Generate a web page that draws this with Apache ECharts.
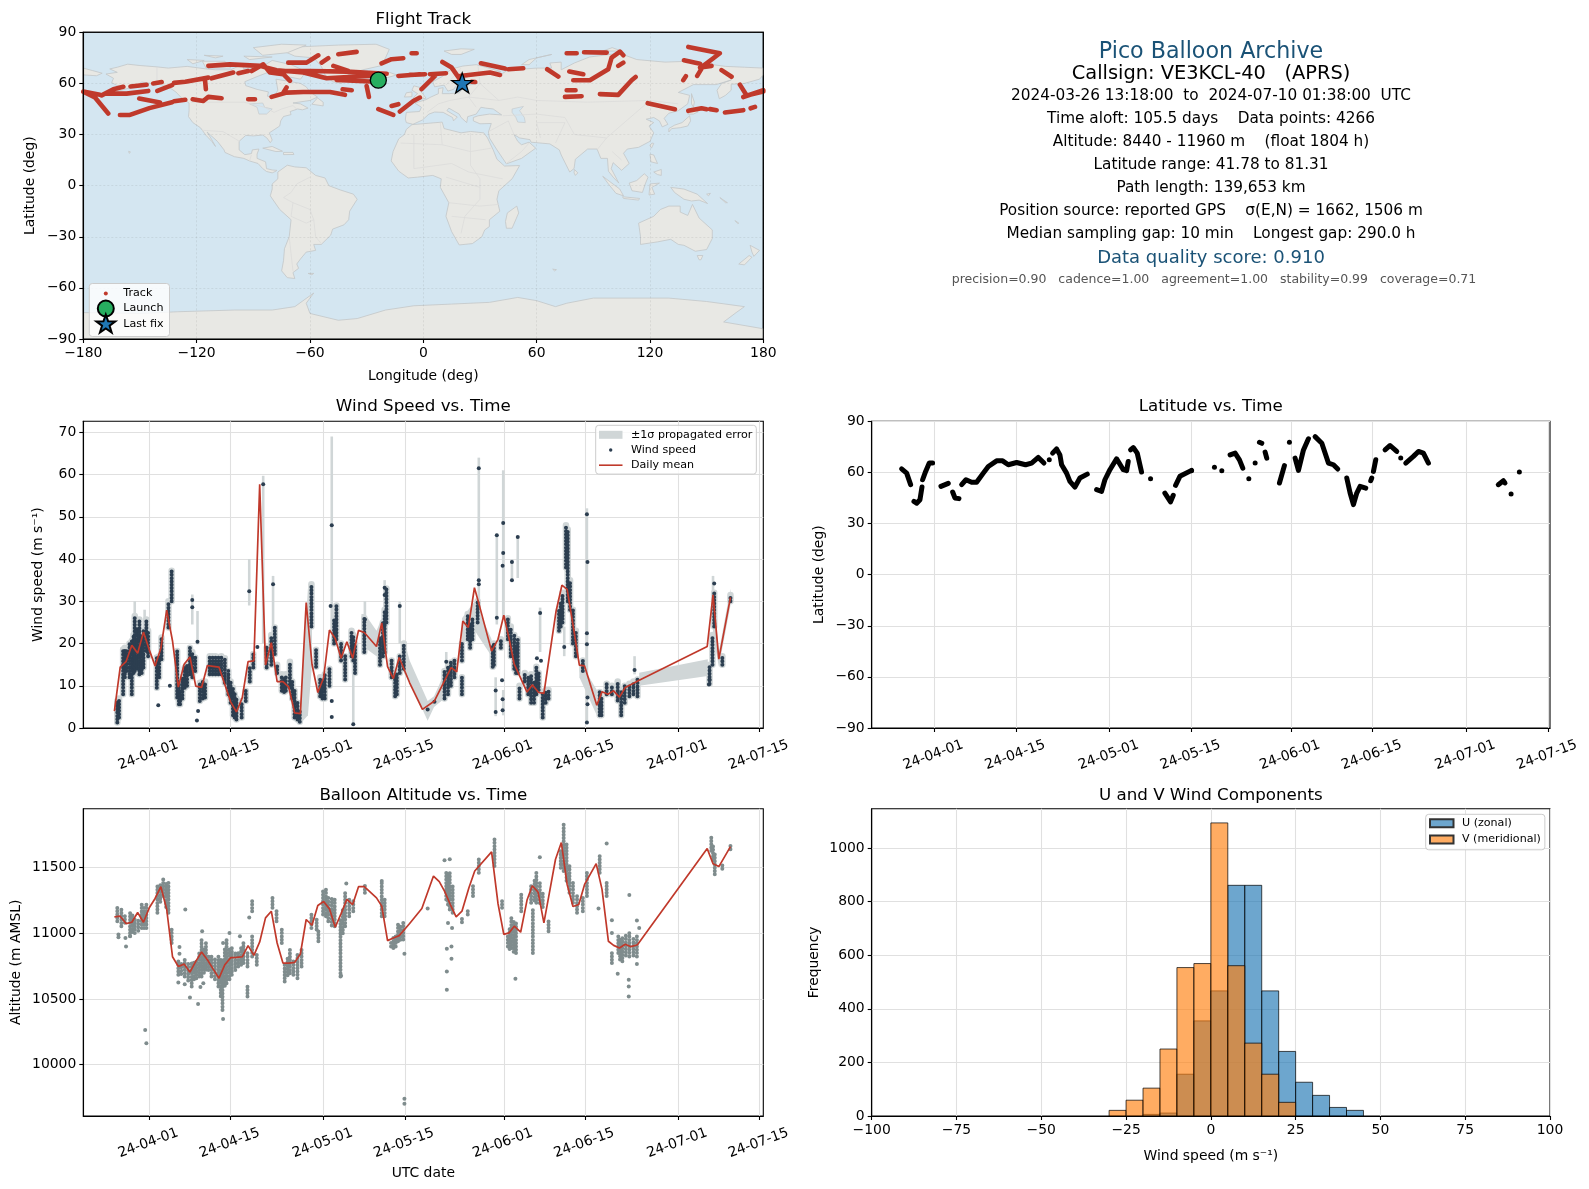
<!DOCTYPE html>
<html><head><meta charset="utf-8">
<style>html,body{margin:0;padding:0;background:#fff}#c{width:1589px;height:1189px}</style>
<script src="https://cdn.jsdelivr.net/npm/echarts@6/dist/echarts.min.js"></script>
</head><body><div id="c"></div>
<script>
const headerLines = [
 ["Pico Balloon Archive",51.8,22.2,"#1a5276",1211],
 ["Callsign: VE3KCL-40   (APRS)",74.3,19.4,"#000",1211],
 ["2024-03-26 13:18:00  to  2024-07-10 01:38:00  UTC",96,15.3,"#000",1211],
 ["Time aloft: 105.5 days    Data points: 4266",119,15.3,"#000",1211],
 ["Altitude: 8440 - 11960 m    (float 1804 h)",142,15.3,"#000",1211],
 ["Latitude range: 41.78 to 81.31",165,15.3,"#000",1211],
 ["Path length: 139,653 km",188,15.3,"#000",1211],
 ["Position source: reported GPS    σ(E,N) = 1662, 1506 m",211,15.3,"#000",1211],
 ["Median sampling gap: 10 min    Longest gap: 290.0 h",234,15.3,"#000",1211],
 ["Data quality score: 0.910",258,18,"#1a5276",1211],
 ["precision=0.90   cadence=1.00   agreement=1.00   stability=0.99   coverage=0.71",280,12.5,"#555555",1214]
];
const landPolygons = [
 [[-168,65.5],[-164,63],[-165,60.5],[-162,58.7],[-158,58],[-164,54.7],[-155,57.5],[-151,59.5],[-149,60.8],[-144,60],[-139,59.5],[-135,58],[-131,55],[-128,51.5],[-124,48.5],[-124,44],[-124.3,40.5],[-122,37],[-118,34],[-117,32.5],[-115,29.5],[-112,26],[-110,23],[-112,27],[-114.5,31.5],[-112.5,29.5],[-109,26],[-105.5,21],[-105,19.5],[-100,17],[-95,16],[-92,14.5],[-87.5,13],[-85,10],[-83,8.3],[-80,7.5],[-78,8.5],[-77.5,9],[-80,9.2],[-83,10],[-83.5,14],[-88,16],[-88,18.5],[-87,21.5],[-90.5,21],[-91,18.8],[-94.5,18.2],[-97.5,21],[-97.5,26],[-94,29.5],[-90,29.2],[-85,29.7],[-82.8,28],[-81,25.2],[-80,26.8],[-81.5,31],[-76,35],[-75.5,38],[-74,40.6],[-70,41.7],[-70.5,43.5],[-66.5,45],[-64,44.5],[-61,45.5],[-65,48],[-69,48.5],[-60,50],[-56,52],[-60,55],[-62,58],[-65,60],[-70,61],[-78,62.5],[-77,56],[-79.5,51.5],[-82.5,52.5],[-82,55],[-88,56.5],[-94,58.7],[-94.5,61],[-88,64],[-81,67],[-85,69.5],[-90,68.5],[-95,68.5],[-96,71],[-102,68],[-110,68],[-115,68.5],[-125,70],[-135,69],[-141,69.7],[-150,70.5],[-156.5,71.3],[-162,69.5],[-166,68.5],[-162,66.5]],
 [[-73,78.5],[-65,81.5],[-45,82.5],[-25,83],[-18,80],[-20,75],[-22,70.5],[-32,68],[-40,65],[-43,60],[-48,61],[-52,65],[-54,70],[-58,75],[-68,76]],
 [[-80,73.5],[-70,71],[-62,67],[-65,62.5],[-72,64],[-78,65],[-73,68],[-85,70]],
 [[-117,73],[-105,73],[-102,69],[-115,69]],[[-125,74],[-116,73.5],[-122,71.5]],
 [[-90,81],[-75,83],[-62,82.5],[-72,78],[-85,76.5]],[[-95,76],[-80,75.5],[-92,74]],[[-116,76.5],[-106,76],[-110,75]],
 [[-59,47.8],[-53,46.8],[-53,49],[-56,51.5]],[[-85,22],[-80,23],[-74.5,20.2],[-78,20]],[[-74,19.5],[-69,19.5],[-68.5,18.3],[-74,18.2]],[[-156,20.2],[-155,19.7],[-155.7,19]],
 [[-77,8],[-72,12],[-68,11],[-62,10.5],[-57,6],[-52,4.5],[-50,0],[-44,-2.5],[-37,-5],[-35,-8],[-39,-15],[-39.5,-20],[-42,-23],[-48,-25.5],[-49,-29],[-54,-34.5],[-58,-34.5],[-57,-38],[-62,-39],[-65,-43],[-67,-46],[-66,-48.5],[-69,-51],[-68,-54.5],[-72,-54],[-75,-50],[-74,-44],[-73.5,-37],[-71,-30],[-70,-20],[-76,-14],[-81,-6],[-80,-2],[-80,1],[-77,4]],
 [[-6,35.8],[10,37.3],[11,33.5],[20,31],[25,31.8],[32,31],[34,28],[37,21],[39,15.5],[43,11.5],[51,11.8],[47,4],[40,-3],[39,-8],[40.5,-15],[35,-20],[35,-24],[32.5,-26],[31,-30],[26,-34],[19,-34.8],[15,-27],[12,-18],[13.5,-10],[9,-1],[9.5,4],[5,6],[-3,5],[-8,4.5],[-13,8.5],[-17,14.5],[-16,20],[-13,27.5],[-10,30],[-9,33]],
 [[-9,37],[-9.5,39],[-9,43],[-2,43.5],[-1,46],[-4.5,48.5],[1.5,50.5],[4,52],[8,54],[8,57],[10.5,57.5],[10,54],[14,54],[19,54.5],[21,57],[24,59],[29,60],[23,60],[21,62],[25,65],[22,65.8],[17.5,62],[18.5,60],[16,56.5],[13,55.5],[11,59],[6,58],[5,61],[10,64],[15,68.5],[21,70.2],[28,71],[33,69.5],[41,67],[35,66.5],[40,64.5],[45,68],[54,68.5],[60,69],[68,69],[67,72],[73,72.5],[73,68],[80,72],[88,75.5],[104,77.7],[113,74],[128,72.5],[140,73],[160,70],[170,69.5],[180,69],[180,65],[178,62.5],[170,60],[163,59.5],[163,56],[160,53],[156.7,51],[155.5,56],[158,60],[163,62],[155,59.3],[143,59.3],[135,54.7],[141,53],[140,48],[135,44],[130,42.5],[127.5,39.5],[129.5,36],[126.5,34.5],[125,38],[122,40],[118,39],[122,37],[119.5,35],[122,31],[120,26],[114,22.5],[108,21.5],[106,19],[109,13],[105,9],[100.5,13.5],[99.5,10],[103.5,1.5],[100.5,5],[98,8.5],[97.5,16],[94,16],[92,21.5],[87,21.5],[80.5,15.5],[79.8,10],[77.5,8],[73,18],[72,21],[67,24.5],[57,25.5],[56.5,27],[51,28],[48,30],[50,26],[52,24],[56,25.5],[59.5,22],[52,16],[44,12.8],[39,21],[35,28],[34.5,31.5],[36,36.5],[30,36.3],[26.5,38],[26.5,40],[29,41],[35,42],[41.5,41.5],[37,45],[33,45.5],[30.5,46],[28,42],[23.5,40.5],[23,37],[20,40],[19,42],[13.5,45.5],[12.5,44],[18,40.3],[16,38],[15.5,40],[10.5,43],[6,43.2],[3,42],[-0.5,38.5],[-5.5,36]],
 [[-180,69],[-175,67.5],[-170,66],[-173,64.5],[-180,65]],
 [[-5.5,50],[1.5,51.3],[0,53.5],[-2,56],[-2,57.7],[-5,58.6],[-6,56],[-3,54],[-5,52]],[[-10,52],[-6,52.2],[-6,55],[-9,54.5]],[[-24,65.5],[-18,66.5],[-14,65],[-19,63.4],[-23,64]],
 [[11,79],[20,80.3],[27,80],[20,77],[15,77]],[[52,71],[56,74],[68,77],[60,75],[56,71]],[[95,79],[105,79],[100,81]],[[142,54],[143.5,49],[143,46],[142,48]],
 [[130,31.5],[131.5,33.5],[136,34],[140,35],[141.5,38],[141,41],[140,40],[137,37],[133,35.5],[130,33.5]],[[140,42],[142,45.5],[145.5,43.3],[143,42]],
 [[80,9.5],[81.8,7.5],[80.5,6],[79.8,7.5]],[[121,25],[122,24.8],[120.8,22],[120,23.5]],[[120,18.5],[122,18],[124,13],[120.5,14]],[[122,8],[126,9.5],[126,6],[124,6.5]],
 [[109,1.5],[113,3],[117,7],[119,5],[117.5,1],[116,-4],[110.5,-3]],[[95,5.5],[104,-2],[106,-6],[102,-4.5],[98,1]],[[105.5,-6.5],[114.5,-7.5],[114,-8.5],[106,-7.5]],[[119.5,-5.5],[120,1],[125,1.5],[121,-1],[122.5,-5]],
 [[131,-1],[138,-2],[145,-5],[150.5,-10.5],[146,-8.5],[142,-9],[138,-8],[133,-4]],[[150,-5],[152,-4.5],[151,-6]],[[157,-7],[161,-10],[160,-10]],[[165,-20.5],[167,-22],[166.5,-22.3]],
 [[114,-22],[122,-18],[125.5,-14],[130,-12],[136,-12],[136,-15.5],[140,-17.5],[142.5,-11],[146,-19],[153,-26],[153,-31],[150,-37.5],[144,-38.5],[138,-35],[135,-34.5],[131,-31.5],[124,-33],[115,-34.5],[115,-30]],
 [[145,-41],[148,-41],[147,-43.5],[146,-43.5]],[[173,-35],[178,-38],[175,-41.5],[174,-39]],[[172.5,-41],[174,-42],[170,-46.5],[167,-46]],
 [[49.5,-12],[50.5,-16],[47,-25],[44,-25],[43.5,-21],[44.5,-16]],[[-61,-51.5],[-58,-51.5],[-59,-52.3]],[[68.5,-49],[70.5,-49.3],[69.5,-50]],
 [[-180,-74.5],[-150,-75],[-130,-74],[-100,-73],[-80,-73],[-68,-71],[-58,-63],[-62,-69],[-60,-75],[-45,-79],[-35,-78],[-20,-73],[-5,-70.5],[15,-69.5],[35,-68.5],[50,-65.6],[60,-67.5],[70,-71],[76,-69],[90,-66],[110,-66],[130,-66],[150,-68],[170,-71],[165,-75],[159,-80],[180,-84],[180,-90],[-180,-90]]
];
const lakePolygons = [[[47,45],[53,46.5],[51,44],[53.5,40],[54,37],[50,37.3],[49,40],[47,43]],[[-92,48],[-85,48.5],[-84,46],[-80,45],[-83,42],[-87,42],[-88,46]]];
const borderLines = [
 [[-141,69.7],[-141,60],[-135,58.5]],[[-123,49],[-95,49],[-84,46],[-79,43],[-75,45],[-69,47],[-67,45]],[[-117,32.5],[-106,31.7],[-97.3,26]],[[-92,14.5],[-91,18]],
 [[-70,-18],[-69,-10],[-74,-7],[-70,-4],[-67,1],[-60,5]],[[-58,-20],[-57,-30]],[[-70,-18],[-62,-22],[-58,-20]],[[-71,-30],[-69,-50]],[[-69,-10],[-60,-14],[-58,-20]],[[-54,-34],[-57,-30]],
 [[-12,25],[10,24],[25,20],[36,22]],[[25,31],[25,12],[30,4],[30,-8],[22,-18],[20,-28]],[[-5,10],[15,13],[24,8],[42,4]],[[12,5],[30,-1]],[[10,24],[9,37]],[[-5,10],[-5,30]],[[13.5,-10],[30,-12],[40,-11]],[[15,-18],[33,-20]],
 [[42,41],[60,42],[75,40],[80,30],[97,28],[120,50],[135,48]],[[30,60],[40,50],[50,52],[60,50],[87,49],[120,50]],[[60,37],[62,28]],[[45,38],[35,32]],[[97,28],[92,21]],[[100,20],[105,15]],[[60,37],[75,37]],[[75,37],[70,25]],[[45,38],[48,30]],[[44,13],[52,20],[56,25]],
 [[2,43],[8,48],[14,50],[24,52],[28,46]],[[24,52],[30,60]],[[24,52],[40,50]],[[30,60],[29,70]],[[12,59],[20,69]]
];
const trackSegments = [
 [[-180,55.2],[-173.8,51.7],[-166.8,42.3]],[[-180,55.2],[-171.2,53.3]],[[-170.3,53],[-164.1,56.6],[-158.8,58]],[[-167.6,54],[-157.1,54],[-145.6,55.6]],[[-155,58.2],[-146.5,59.2]],[[-143,60],[-138.5,60.8]],
 [[-140.8,55.6],[-133,59]],[[-132,60.3],[-126,61],[-113.8,63.4]],[[-112.1,63],[-100.6,66.4]],[[-97.9,66],[-92.7,67.3]],[[-115.6,62.4],[-115.1,56.6]],[[-150.4,51.1],[-139.4,48.8]],
 [[-160.6,41.5],[-155.3,41.5],[-145,45.5],[-133,49]],[[-132,49.5],[-126,50.4]],[[-122.1,50.7],[-116.5,49.7],[-113.8,52.1],[-106.8,51.3]],[[-92.7,50.7],[-89.1,50.7]],
 [[-113.8,70.3],[-102.4,71.2],[-86.5,70.3],[-77.7,67.7],[-63.5,66.4],[-51.2,63],[-28.2,64.4]],[[-90.9,67.3],[-84.7,71.2],[-81.2,66.4],[-74.1,65.4],[-70.6,61.5]],[[-77.7,67.3],[-60,67.3],[-40.6,66.9],[-19.4,65.7]],
 [[-45.9,62],[-28.2,61.1]],[[-71.5,72.2],[-61.8,72.2],[-55.6,76.5]],[[-53.8,72.2],[-50.3,74.8]],[[-47.6,70.3],[-39.7,67.3]],[[-45,77.1],[-35.3,78.5]],[[-22.1,71.8],[-16.8,74.2],[-10.6,74.8]],[[-6.2,77.7],[-3.5,77.7]],[[-13.2,64.4],[-1.8,65.4]],[[-30,58.5],[-28.8,52.1]],
 [[-80.3,52.1],[-72.4,54.6],[-63.5,55],[-49.4,55],[-41.5,53.3]],[[-74.1,54.6],[-72.4,57.6]],[[-42.7,56.6],[-37.9,56]],[[-23.8,44.9],[-15.9,41.5]],[[-16.8,46.8],[-13.2,47.8]],[[-12.4,43.5],[-5.3,49.7],[-1.8,51.7]],
 [[-0.9,56.6],[6.2,64.4]],[[3.5,65.4],[12,66]],[[-7.1,65],[0.9,65.4]],[[10.1,72.6],[15,69.3],[19.4,62.4]],[[19.4,64.4],[35.3,66.4],[40.6,65]],[[30.5,71.8],[43.2,68.7]],[[45,68.3],[52.9,68.9]],[[65.6,68.3],[71.5,64]],[[77.3,67],[84.7,65.4]],
 [[79.4,61.9],[88.2,61.9],[97.9,68.3],[99.7,75.1],[104.1,78.7],[105.9,76.5]],[[75.9,77.7],[81.2,77.7]],[[85.1,78.3],[97.1,78.1]],[[103.2,70.3],[105.9,72.2]],[[75.9,56],[80.6,56]],[[75,52.1],[83.8,52.5]],[[93.5,53.7],[103.2,53.3],[110.3,61.9],[112.4,63.8]],
 [[118.8,48.4],[133.2,44.9]],[[140.3,81.4],[157,77.7],[148.2,70.3],[145,64.4]],[[138,73.6],[146.5,71.6]],[[146.5,69.3],[152.6,70.3]],[[157.9,67.8],[163.2,63.9]],[[137.6,61.9],[139,64.2]],
 [[167.6,59.3],[171.2,52.9],[180,55.2]],[[169.4,52],[180,56]],[[140.3,43.9],[147.3,45.4],[150,44.9]],[[151.8,44.9],[155.3,44.3]],[[159.7,42.9],[169.4,44.3]],[[173.3,45.4],[175.6,46.2]],[[25.5,61],[27.5,60.8]]
];
const launchPoint = [-23.8,61.9];
const lastFixPoint = [20.6,60.3];

const windMean = [[-6,4],[-5,14.4],[-4,15.7],[-3,19.6],[-2,17.7],[-1,22.7],[0,18.5],[1,14.7],[2,18.9],[3,27.9],[4,20.6],[5,9.7],[6,15.1],[7,16.8],[8,9.9],[9,9.6],[10,14.8],[11,14.6],[12,14.4],[13,10.3],[14,6.2],[15,3.8],[16,7.2],[17,15.7],[18,15.9],[19,57.7],[20,14.9],[21,20.2],[22,11],[23,11],[24,9.7],[25,3.6],[26,3.4],[27,29.7],[28,15.1],[29,8.4],[30,11.9],[31,23.2],[32,21.2],[33,16.5],[34,20.4],[35,16.5],[36,23.1],[37,22.6],[39.1,19.3],[40,24.9],[41,14.5],[42,11.7],[43,16.7],[44.8,10.7],[47,4.4],[49.07,6.4],[51.94,14.3],[52.9,13.3],[53.95,25.3],[54.9,23.8],[55.95,33.2],[56.9,28.5],[58.9,18.2],[60,21],[61,26.7],[62,20.6],[62.8,15.1],[65,8.5],[65.9,10.2],[67,8.4],[67.9,8.2],[70,27.7],[71,33.8],[71.9,32.8],[72.9,24.5],[74,14.9],[74.9,14.7],[77,5.4],[77.9,8.6],[78.9,8],[79.9,8.8],[80.9,7.3],[81.9,9.6],[84.3,11.3],[96,19.3],[97,31.5],[98,16.3],[100,30.9]];
const windColumns = [[-5.5,1.3,6.4],[-5.2,2.5,7],[-4.5,8,18.6],[-4.2,12,19],[-3.9,13.5,18.6],[-3.4,12,20],[-3,8,20.6],[-2.7,13,22],[-2.5,13.5,26.5],[-2.1,14,24],[-1.7,12.7,25.7],[-1.3,13,22],[-1,14.3,23],[-0.5,18.2,25.7],[-0.2,17,23],[1.3,9.5,16.7],[1.7,12,17],[2.1,16.3,21.4],[3.3,23.8,30],[3.85,30,37.2],[4.8,7.2,18.2],[5.1,5.6,11],[5.3,5.6,9.5],[5.7,7,12],[6.1,9.5,14.3],[6.5,10,15],[7,12.7,19],[7.4,12,18],[7.9,13.5,16.7],[8.7,6.4,10.7],[9.2,7,11],[9.6,7.2,11],[10.4,12.7,17],[10.9,12.7,17],[11.4,12.7,17],[11.9,12.7,16.8],[12.4,12.7,17],[13,10.7,16.5],[13.6,8,13.5],[14,6,11],[14.4,3,9.5],[14.7,2.5,8],[15,2,7],[15.9,2.5,6.4],[16.6,6.4,8.8],[17.3,11,14.3],[17.9,14.3,17.5],[20.2,14.3,19],[21,15,22],[21.6,17.5,23.8],[22,13,15],[22.8,8.8,12.7],[23.2,8.5,12],[23.5,8.8,12.7],[24.2,9.5,15.7],[24.6,7,11],[25,2.5,8.8],[25.5,2,6],[25.9,1.5,4.4],[27.9,24,34],[28.7,14.5,18.5],[29.4,7.5,12],[29.8,7,11],[30.2,7,12.7],[31,10,14],[31.8,20,26],[32.2,21,29],[33,16,20],[33.7,11.5,17],[34.8,17,23],[35.1,16,22],[35.4,13,20],[37,18,26],[39.7,15,22],[40.2,17,25],[40.5,18,28],[40.8,25,33],[41.7,12,16],[42.3,7.5,12.7],[42.6,8,13],[43.1,13,17],[43.8,14,20],
 [50.8,7,13.5],[51.4,8,14.5],[51.9,10,15.5],[52.5,12,16],[53.8,8,12],[53.8,16,20],[54.8,21,27],[55.2,19,25],[55.6,21,26],[56.5,25,30],[59.1,14.5,19.5],[59.3,15,20],[60.5,19,21],[61.7,21,26],[62.2,17,24],[62.8,14,22],[63.1,13,20],[63.4,13,21],[63.7,7,10],[64.6,11,13],[65.2,8,12],[65.7,6,12.7],[66.2,6,11],[66.6,8,14.5],[67,9,13],[67.7,2.5,8.5],[68.2,6,9],[68.7,7,9],[70.5,23,28],[70.8,24,30],[71.1,25,32],[71.7,38,48],[72,30,47],[72.4,28,35],[72.9,20,28],[73.4,17,23],[74.6,13.5,16],[77.5,3,8.5],[77.8,3,7],[78.7,8,10.5],[79.6,8,10],[80.6,6.5,11],[81.2,3,9],[81.8,6,10],[82.6,7.5,10.5],[83.3,8,11],[84,7.5,11.5],[96.4,10.5,15],[96.9,15,22],[97.2,24,32],[98.6,15,17],[100,30,31.5]];
const windPoints = [[1.55,5.4],[3.55,10],[7.4,30.3],[7.4,28.6],[8.3,20.4],[8.4,4],[8.2,1.8],[17.2,32.4],[19.6,57.7],[21.3,34],[18.6,19.2],[31.4,48],[31.2,28.9],[31.4,6.4],[31.4,2.6],[35.1,0.9],[37.1,25.7],[43.1,28.9],[40.5,33.2],[40.5,31.5],[47.9,4.4],[49.07,6.2],[56.7,61.5],[56.7,35],[56.7,34],[59.8,45.6],[59.8,26.1],[60.9,48.5],[60.9,41.4],[60.8,38.4],[62.4,39.3],[62.4,35],[63.4,45.2],[67.25,27.2],[66.7,16.5],[67.4,15.9],[59.6,8.9],[59.6,3.8],[60.8,6.8],[60.8,4.2],[60.7,11.3],[75.3,50.6],[75.4,39.3],[75.3,22.4],[75.3,19.8],[75.3,1.3],[75.4,7.2],[75.4,5.6],[71.4,19.2],[51.1,15.7],[83.5,13.7],[97.2,34.2],[96.3,10.3],[96.4,11.5]];
const windSpikes = [[-2.5,20,30],[-0.8,24,28],[7.4,24.5,31.6],[8.3,19.8,27.7],[17.2,29,40],[19.6,20,59.7],[21.3,21,36],[31.4,23,69],[35.1,1,18],[37.1,20,30],[40.5,22,35],[43.1,20,30],[56.7,28,64],[59.8,24.5,46],[60.9,26,61],[62.4,35,40],[63.4,35.5,45],[67.25,18,28.5],[75.3,21,52],[75.3,1.5,22],[71.4,17,24],[83.5,12.7,17],[97,27.7,36],[51.1,11,18],[59.6,2.8,12],[60.9,3,9]];
const windBandSegments = [
 [[36.5,20,27],[37.1,19,27],[39.1,17,23],[40,19,26]],
 [[43.8,13,21],[44.8,11,16],[47.9,1.7,6.4],[49,5,7.5],[50.8,7,13]],
 [[53.8,20,26],[56,23,30],[58.9,17,21]],
 [[74,12,16],[77,3,9]],
 [[84.3,10,13.1],[96.1,12.3,16.3]],
 [[97,22,33],[98,14.5,18],[100,29,33]],
 [[26,1,5],[27.3,3,33],[28,15,30]]
];

const altMean = [[-6,11125],[-5,11130],[-4,11074],[-3,11084],[-2,11158],[-1,11084],[0,11194],[1,11265],[2,11355],[3,11181],[4,10821],[5,10747],[6,10765],[7,10704],[8,10786],[9,10857],[10,10798],[11,10727],[12,10658],[13,10760],[14,10814],[15,10816],[16,10821],[17,10906],[18,10832],[19,10934],[20,11117],[21,11168],[22,10926],[23,10773],[24,10773],[25,10778],[26,10842],[27,11105],[28,11061],[29,11212],[30,11242],[31,11186],[32,11046],[33,11150],[34,11258],[35,11219],[36,11355],[37,11355],[39.1,11270],[40,11207],[41,10944],[42,10964],[43,10982],[44.8,11074],[46.9,11189],[48.9,11436],[49.9,11393],[50.8,11321],[51.8,11219],[52.8,11125],[53.8,11168],[55,11347],[56,11474],[58.9,11620],[60,11227],[61,10992],[61.9,11003],[62.8,11054],[63.9,11008],[65,11253],[65.9,11362],[66.9,11314],[67.9,11079],[68.9,11321],[69.9,11564],[70.9,11691],[71.9,11372],[72.9,11204],[73.9,11219],[74.9,11372],[76.9,11530],[77.9,11334],[79,10939],[79.9,10908],[80.9,10888],[81.9,10916],[82.9,10898],[84,10913],[96,11645],[97,11530],[98,11508],[100,11660]];
const altColumns = [[-5.5,11092,11194],[-4.8,11054,11194],[-4.2,11080,11150],[-3.3,10977,11168],[-2.9,11010,11150],[-2.5,11003,11117],[-1.9,11020,11120],[-1.3,11041,11232],[-0.9,11041,11210],[-0.5,11041,11232],[1.4,11156,11360],[1.9,11240,11380],[2.4,11283,11411],[2.9,11200,11400],[3.3,11156,11398],[3.85,10926,11041],[5,10684,10798],[5.5,10690,10790],[6.1,10671,10811],[6.7,10640,10790],[7.3,10594,10773],[7.7,10650,10790],[8.1,10658,10798],[8.6,10670,10850],[9,10671,10952],[9.4,10700,10900],[9.75,10722,10939],[10.2,10720,10830],[10.7,10671,10824],[11.3,10650,10820],[11.9,10594,10824],[12.3,10520,10800],[12.6,10416,10798],[13,10600,10900],[13.3,10620,10952],[13.8,10650,10900],[14.2,10684,10900],[14.8,10720,10870],[15.3,10747,10849],[15.8,10760,10900],[16.2,10773,10926],[16.9,10747,10849],[16.9,10518,10594],[17.7,10824,10977],[17.7,11168,11258],[18.5,10760,10849],[21.2,11194,11270],[21.9,11092,11168],[22.8,10926,11041],[23.3,10632,10773],[23.8,10680,10830],[24.2,10696,10875],[24.8,10684,10798],[25.5,10658,10849],[26.2,10747,10875],[27.9,11041,11143],[28.8,11028,11105],[29.1,10939,11028],[29.9,11143,11321],[30.4,11130,11340],[30.8,11092,11283],[31.4,11060,11270],[31.9,11054,11270],[32.9,10671,11105],[33.3,11000,11200],[33.7,11054,11321],[34.4,11130,11280],[35.1,11168,11258],[37.1,11309,11380],[40,11130,11398],[40.5,11130,11258],[41.6,10900,10950],[42,10888,10964],[42.4,10900,11000],[42.8,10939,11066],[43.2,10950,11070],[43.7,10952,11092],
 [51.1,11258,11467],[51.4,11220,11470],[51.7,11181,11474],[52.2,11156,11372],[53.8,11084,11130],[54.8,11143,11186],[55.7,11283,11360],[56.7,11462,11564],[59.4,11513,11717],[60.7,11194,11258],[61.7,10900,10990],[62,10880,11040],[62.3,10888,11117],[62.7,10860,11090],[63.1,10849,11092],[64,11168,11309],[65.7,11232,11360],[66,10849,11181],[66.3,11250,11420],[66.6,11232,11474],[67.2,11230,11400],[67.7,11200,11320],[68.7,11015,11092],[70.8,11500,11650],[71.3,11474,11844],[71.8,11400,11700],[72.3,11309,11513],[72.9,11232,11385],[73.6,11156,11283],[74.6,11168,11283],[75.3,11283,11462],[77.5,11462,11602],[78.7,11283,11398],[79.6,10773,10849],[80.7,10849,10977],[81,10800,10970],[81.4,10786,10977],[82,10830,10985],[82.6,10824,11003],[83.3,10830,10980],[83.9,10824,10977],[96.7,11628,11730],[97,11560,11680],[97.3,11449,11602],[98.6,11492,11525],[100,11640,11670]];
const altPoints = [[-5.3,10990],[-5.3,10970],[-4.1,10964],[-4,10900],[-3.3,10980],[6.2,11181],[9.1,11015],[12.7,10926],[13.8,11003],[15.6,10977],[-0.7,10263],[-0.5,10163],[43.9,9740],[43.9,9702],[12.7,10347],[8.4,10462],[7,10510],[43.9,10844],[33,10676],[5.2,10895],[5.2,10844],[5,10625],[6.1,10612],[40,11398],[33.9,11380],[47.9,11189],[51.4,11079],[52.1,11041],[50.8,11556],[51.7,11564],[51.2,10883],[52,10900],[52,10806],[51.2,10709],[51.2,10569],[78.7,11684],[82.6,11291],[82.5,10645],[82.5,10594],[82.5,10518],[83.9,11097],[83.9,10765],[84.3,11041],[79.6,11099],[79.6,11003],[80.6,10691],[63,10653],[67.2,11579],[77.3,11189],[8.8,10590],[9.3,10620],[17.2,11120]];

const latStrokes = [
 [[-5.59,62.1],[-4.73,59.6],[-4.05,52.8]],[[-3.48,43],[-3.02,41.9],[-2.45,44],[-2.11,51.4]],[[-2,55.7],[-1.48,60.6],[-0.86,65.5],[-0.29,65.5]],[[1.14,51.8],[2.39,53.6]],[[3.14,48.5],[3.53,45],[4.22,44.6]],
 [[4.68,52.8],[5.42,55.7],[6.39,54.2],[7.24,54.2],[8.38,59.6],[9.24,63.5],[10.66,66.8],[11.69,66.8],[12.66,64.5],[14.08,65.8],[15.62,64.5],[16.65,65.5],[17.79,68.8],[18.76,65.5]],
 [[20.24,71.3],[20.92,73.8],[21.49,70.3],[21.78,64.5],[22.63,59.6],[23.2,54.7],[24.06,51.4],[24.91,56.7],[26.17,59]],
 [[27.77,49.9],[28.62,48.9],[29.19,55.7],[30.05,61.6],[31.19,68],[32.33,61.6],[32.9,61],[33.18,66.4]],[[33.58,73.2],[34.04,74.6],[34.72,71.3],[35.46,60.2]],
 [[39.45,47.9],[40.42,42.7],[40.88,46.6]],[[41.28,52.4],[42.02,57.7],[44.01,61.2]],
 [[50.61,70.3],[51.47,71.3],[52.21,67.4],[52.78,62.5]],[[55.63,77.7],[56.03,77.1]],[[56.6,71.9],[56.88,68.4]],[[59.05,53.8],[59.9,64]],
 [[61.73,68.4],[62.3,61.2],[63.16,73.2],[64.01,79.7]],[[65.15,81],[66.3,77.1],[67.43,65.5],[68.29,64.5],[69.03,62]],
 [[70.57,56.7],[71.14,47.9],[71.71,41.1],[72.28,47.9],[72.85,51.8],[73.82,50.8]],[[74.67,55.1],[74.84,56.7]],[[75.13,60.6],[75.53,67.4]],[[77.12,73.2],[77.98,75.8],[79.12,72.3]],
 [[80.66,65.5],[81.97,69.4],[82.83,72.3],[83.68,71.3],[84.54,65.5]],[[96.49,52.8],[97.36,55.1],[97.64,53.8]]
];
const latPoints = [[19.67,67.4],[37,56.3],[44,61],[47.93,63],[49.19,61],[53.81,56.3],[54.89,65.5],[60.76,77.7],[79.8,68.4],[98.68,47.3],[100.1,60.2]];

const histBinEdges = [-30,-25,-20,-15,-10,-5,0,5,10,15,20,25,30,35,40,45];
const histU = [0,0,6,11,156,355,467,861,861,467,241,126,77,32,21];
const histV = [21,59,104,250,554,569,1094,561,272,156,51,0,0,0,0];

const dateTicks = [[2024,3,1],[2024,3,15],[2024,4,1],[2024,4,15],[2024,5,1],[2024,5,15],[2024,6,1],[2024,6,15]];
const lonTicks = [-180,-120,-60,0,60,120,180];
const latTicks = [-90,-60,-30,0,30,60,90];
const windTicks = [0,10,20,30,40,50,60,70];
const altTicks = [10000,10500,11000,11500];
const histXTicks = [-100,-75,-50,-25,0,25,50,75,100];
const histYTicks = [0,200,400,600,800,1000];

const FONT = 'DejaVu Sans';
const DAY = 86400000, T0 = Date.UTC(2024,3,1);
const t = d => T0 + d*DAY;
const dateVals = dateTicks.map(a => Date.UTC(a[0],a[1],a[2]));
const fmtDate = v => { const s = new Date(v).toISOString(); return s.slice(2,10); };
const fmtNum = v => String(v).replace('-', '\u2212');
const GRID = '#e0e0e0';

function axis(grid, type, vals, min, max, fmt, extra) {
  return Object.assign({
    gridIndex: grid, type, min, max,
    axisLine: {show:true, onZero:false, lineStyle:{color:'#000', width:1.1}},
    axisTick: {show:true, length:4, inside:false, customValues: vals, lineStyle:{color:'#000', width:1.1}},
    axisLabel: {show:true, customValues: vals, formatter: fmt, color:'#000', fontSize:13.9, fontFamily:FONT, margin:7, hideOverlap:false, showMinLabel:true, showMaxLabel:true},
    splitLine: {show:true, customValues: vals, lineStyle:{color:GRID, width:1.1}},
    nameLocation:'middle', nameTextStyle:{color:'#000', fontSize:13.9, fontFamily:FONT}
  }, extra||{});
}
function dateAxis(grid, min, max, extra) {
  const a = axis(grid,'value',dateVals,t(min),t(max),fmtDate,extra);
  a.axisLabel = {show:false};
  return a;
}
const mapGridStyle = {color:'rgba(110,110,110,0.17)', width:0.8, type:[2,2]};
const xAxes = [
  axis(0,'value',lonTicks,-180,180,fmtNum,{name:'Longitude (deg)',nameGap:30,z:2}),
  dateAxis(1,-11.35,105.65),
  dateAxis(2,-10.71,105.34),
  dateAxis(3,-11.35,105.65,{name:'UTC date',nameGap:50.5}),
  axis(4,'value',histXTicks,-100,100,fmtNum,{name:'Wind speed (m s\u207B\u00B9)',nameGap:33})
];
const yAxes = [
  axis(0,'value',latTicks,-90,90,fmtNum,{name:'Latitude (deg)',nameGap:46,z:2}),
  axis(1,'value',windTicks,0,72.6,fmtNum,{name:'Wind speed (m s\u207B\u00B9)',nameGap:38}),
  axis(2,'value',latTicks,-90,90,fmtNum,{name:'Latitude (deg)',nameGap:45}),
  axis(3,'value',altTicks,9608,11949,fmtNum,{name:'Altitude (m AMSL)',nameGap:60}),
  axis(4,'value',histYTicks,0,1147,fmtNum,{name:'Frequency',nameGap:50})
];
Object.assign(xAxes[0].splitLine.lineStyle, mapGridStyle);
Object.assign(yAxes[0].splitLine.lineStyle, mapGridStyle);

const grids = [
  {left:83.3,top:32.3,width:680,height:306.7,backgroundColor:'#d4e6f1'},
  {left:83.3,top:421.3,width:680,height:306.7},
  {left:871.7,top:421.3,width:678.3,height:306.7},
  {left:83.3,top:808.7,width:680,height:307.3},
  {left:871.7,top:808.7,width:678.3,height:307.3}
].map(g => Object.assign({show:true,borderColor:'#000',borderWidth:1.1,containLabel:false},g));

const titles = [
  ['Flight Track',423.3,19.5],['Wind Speed vs. Time',423.3,406.6],['Latitude vs. Time',1210.8,406.6],['Balloon Altitude vs. Time',423.3,795.5],['U and V Wind Components',1210.8,795.5]
].map(a => ({text:a[0],left:a[1],top:a[2],padding:0,textAlign:'center',textVerticalAlign:'middle',textStyle:{fontFamily:FONT,fontSize:16.7,fontWeight:'normal',color:'#000'}}))
 .concat(headerLines.map(a => ({text:a[0],left:a[4],top:a[1],padding:0,textAlign:'center',textVerticalAlign:'middle',textStyle:{fontFamily:FONT,fontSize:a[2],fontWeight:'normal',color:a[3]}})));

function joinSegments(segs, mapX) {
  const out = [];
  segs.forEach((s,i) => { if(i) out.push([null,null]); s.forEach(p => out.push([mapX?mapX(p[0]):p[0],p[1]])); });
  return out;
}
const polyRender = (list, style) => (params, api) => ({type:'polygon',shape:{points:list[api.value(0)].map(p=>api.coord(p))},style});
const idx = list => list.map((_,i)=>[i]);
const rangeRender = (list, style) => (params, api) => {
  const r = list[api.value(0)];
  const a = api.coord([t(r[0]),r[1]]), b = api.coord([t(r[0]),r[2]]);
  return {type:'line',shape:{x1:a[0],y1:a[1],x2:b[0],y2:b[1]},style};
};
const base = {animation:false,silent:true};
const RED = '#c0392b', NAVY = '#2c3e50', GREY = '#7f8c8d', BAND = '#d0d6d7';
const STAR = 'M10 0L12.35 6.76L19.51 6.91L13.8 11.24L15.88 18.09L10 14L4.12 18.09L6.2 11.24L0.49 6.91L7.65 6.76Z';
const boxPath = (w,h) => `M0 0L0 0M${w} ${h}L${w} ${h}`;
const dotIcon = (r,w,h,cx) => `path://${boxPath(w,h)}M${cx-r} ${h/2}A${r} ${r} 0 1 1 ${cx+r} ${h/2}A${r} ${r} 0 1 1 ${cx-r} ${h/2}Z`;
const barIcon = (w,h,bw,th) => `path://${boxPath(w,h)}M0 ${h/2-th/2}L${bw} ${h/2-th/2}L${bw} ${h/2+th/2}L0 ${h/2+th/2}Z`;
const starIcon = 'path://M-2.5 0L-2.5 0M22.5 20L22.5 20' + STAR;
const custom = (o) => Object.assign({type:'custom',coordinateSystem:'cartesian2d'},base,o);
const histRender = (vals, fill) => (params, api) => {
  const i = api.value(0), v = vals[i];
  if(!v) return null;
  const a = api.coord([histBinEdges[i],v]), b = api.coord([histBinEdges[i+1],0]);
  return {type:'rect',shape:{x:a[0],y:a[1],width:b[0]-a[0],height:b[1]-a[1]},style:{fill,stroke:'rgba(0,0,0,0.7)',lineWidth:1}};
};
const histIdx = histU.map((_,i)=>[i]);
const dateLabels = (g, ymin) => custom({name:'Date labels '+g,xAxisIndex:g,yAxisIndex:g,z:1,data:dateVals.map(v=>[v]),
  renderItem:(p,api)=>{const v=api.value(0),c=api.coord([v,ymin]);return {type:'text',x:c[0]-1,y:c[1]+27,rotation:20*Math.PI/180,style:{text:fmtDate(v),align:'center',verticalAlign:'middle',fill:'#000',fontSize:13.9,fontFamily:FONT}};}});

const series = [
  custom({name:'Land',xAxisIndex:0,yAxisIndex:0,z:1,data:idx(landPolygons),renderItem:polyRender(landPolygons,{fill:'#e8e8e4',stroke:'#c3c6c8',lineWidth:0.8})}),
  custom({name:'Lakes',xAxisIndex:0,yAxisIndex:0,z:1,data:idx(lakePolygons),renderItem:polyRender(lakePolygons,{fill:'#d4e6f1',stroke:'#c3c6c8',lineWidth:0.6})}),
  custom({name:'Borders',xAxisIndex:0,yAxisIndex:0,z:1,data:idx(borderLines),renderItem:(p,api)=>({type:'polyline',shape:{points:borderLines[api.value(0)].map(q=>api.coord(q))},style:{fill:null,stroke:'#dcdcda',lineWidth:0.8}})}),
  Object.assign({type:'line',name:'Track',xAxisIndex:0,yAxisIndex:0,z:5,showSymbol:false,symbol:'none',connectNulls:false,data:joinSegments(trackSegments),lineStyle:{color:RED,width:4.6,cap:'round',join:'round'},itemStyle:{color:RED}},base),
  Object.assign({type:'scatter',name:'Launch',xAxisIndex:0,yAxisIndex:0,z:6,symbol:'circle',symbolSize:16,data:[launchPoint],itemStyle:{color:'#27ae60',borderColor:'#000',borderWidth:1.3,opacity:1}},base),
  Object.assign({type:'scatter',name:'Last fix',xAxisIndex:0,yAxisIndex:0,z:6,symbol:'path://'+STAR,symbolSize:[21,20],data:[lastFixPoint],itemStyle:{color:'#1f77b4',borderColor:'#000',borderWidth:1.3,opacity:1}},base),
  custom({name:'Frame',xAxisIndex:0,yAxisIndex:0,z:7,data:[[0]],renderItem:(p)=>({type:'rect',shape:{x:p.coordSys.x,y:p.coordSys.y,width:p.coordSys.width,height:p.coordSys.height},style:{fill:null,stroke:'#000',lineWidth:1.1}})}),

  custom({name:'\u00B11\u03C3 propagated error',xAxisIndex:1,yAxisIndex:1,z:2,data:idx(windBandSegments),itemStyle:{color:BAND},
    renderItem:(p,api)=>{const s=windBandSegments[api.value(0)];const pts=s.map(r=>api.coord([t(r[0]),r[2]])).concat(s.slice().reverse().map(r=>api.coord([t(r[0]),r[1]])));return {type:'polygon',shape:{points:pts},style:{fill:BAND}};}}),
  custom({name:'\u00B11\u03C3 propagated error',xAxisIndex:1,yAxisIndex:1,z:2,data:idx(windSpikes),itemStyle:{color:BAND},renderItem:rangeRender(windSpikes,{stroke:BAND,lineWidth:2.6})}),
  custom({name:'\u00B11\u03C3 propagated error',xAxisIndex:1,yAxisIndex:1,z:2,data:idx(windColumns),itemStyle:{color:BAND},renderItem:rangeRender(windColumns,{stroke:BAND,lineWidth:6.5,lineCap:'round'})}),
  custom({name:'Wind speed',xAxisIndex:1,yAxisIndex:1,z:3,data:idx(windColumns),itemStyle:{color:NAVY},renderItem:rangeRender(windColumns,{stroke:NAVY,lineWidth:4,lineCap:'round',lineDash:[0,3.3]})}),
  Object.assign({type:'scatter',name:'Wind speed',xAxisIndex:1,yAxisIndex:1,z:3,symbolSize:4,data:windPoints.map(p=>[t(p[0]),p[1]]),itemStyle:{color:NAVY,opacity:1}},base),
  Object.assign({type:'line',name:'Daily mean',xAxisIndex:1,yAxisIndex:1,z:4,showSymbol:false,symbol:'none',data:windMean.map(p=>[t(p[0]),p[1]]),lineStyle:{color:RED,width:1.7},itemStyle:{color:RED}},base),
  dateLabels(1,0),

  Object.assign({type:'line',name:'Latitude',xAxisIndex:2,yAxisIndex:2,z:3,showSymbol:false,symbol:'none',connectNulls:false,data:joinSegments(latStrokes,t),lineStyle:{color:'#000',width:5,cap:'round',join:'round'}},base),
  Object.assign({type:'scatter',name:'Latitude points',xAxisIndex:2,yAxisIndex:2,z:3,symbolSize:5,data:latPoints.map(p=>[t(p[0]),p[1]]),itemStyle:{color:'#000',opacity:1}},base),
  dateLabels(2,-90),

  custom({name:'Altitude',xAxisIndex:3,yAxisIndex:3,z:3,data:idx(altColumns),renderItem:rangeRender(altColumns,{stroke:GREY,lineWidth:4,lineCap:'round',lineDash:[0,3.3]})}),
  Object.assign({type:'scatter',name:'Altitude points',xAxisIndex:3,yAxisIndex:3,z:3,symbolSize:4,data:altPoints.map(p=>[t(p[0]),p[1]]),itemStyle:{color:GREY,opacity:1}},base),
  Object.assign({type:'line',name:'Altitude daily mean',xAxisIndex:3,yAxisIndex:3,z:4,showSymbol:false,symbol:'none',data:altMean.map(p=>[t(p[0]),p[1]]),lineStyle:{color:RED,width:1.7},itemStyle:{color:RED}},base),
  dateLabels(3,9608),

  custom({name:'U (zonal)',xAxisIndex:4,yAxisIndex:4,z:2,data:histIdx,itemStyle:{color:'rgba(31,119,180,0.65)',borderColor:'#333',borderWidth:0.7},renderItem:histRender(histU,'rgba(31,119,180,0.65)')}),
  custom({name:'V (meridional)',xAxisIndex:4,yAxisIndex:4,z:3,data:histIdx,itemStyle:{color:'rgba(255,127,14,0.65)',borderColor:'#333',borderWidth:0.7},renderItem:histRender(histV,'rgba(255,127,14,0.65)')})
];

const legendBase = {orient:'vertical',selectedMode:false,backgroundColor:'rgba(255,255,255,0.8)',borderColor:'#cccccc',borderWidth:1,borderRadius:3,textStyle:{fontFamily:FONT,fontSize:11.1,color:'#000'},z:10};
const legends = [
  Object.assign({},legendBase,{left:89.3,top:283.5,itemWidth:25,itemHeight:20,itemGap:-6,padding:[0,6,1,3],
    data:[{name:'Track',icon:dotIcon(2,25,20,12.5)},{name:'Launch',icon:dotIcon(8,25,20,12.5)},{name:'Last fix',icon:starIcon}]}),
  Object.assign({},legendBase,{left:595.7,top:425.3,itemWidth:27,itemHeight:10,itemGap:4.2,padding:[4,4,3.4,3.3],
    data:[{name:'\u00B11\u03C3 propagated error',icon:barIcon(27,10,23.5,8)},{name:'Wind speed',icon:dotIcon(1.7,27,10,11.7)},{name:'Daily mean',icon:barIcon(27,10,23.5,1.6)}]}),
  Object.assign({},legendBase,{left:1425.7,top:814.3,itemWidth:27,itemHeight:10,itemGap:4.2,padding:[3,4,4.3,3.3],
    data:[{name:'U (zonal)',icon:barIcon(27,10,23.5,8)},{name:'V (meridional)',icon:barIcon(27,10,23.5,8)}]})
];

const chart = echarts.init(document.getElementById('c'),null,{renderer:'canvas',width:1589,height:1189});
chart.setOption({animation:false,useUTC:true,backgroundColor:'#fff',title:titles,legend:legends,grid:grids,xAxis:xAxes,yAxis:yAxes,series,tooltip:{show:false}});
</script></body></html>
